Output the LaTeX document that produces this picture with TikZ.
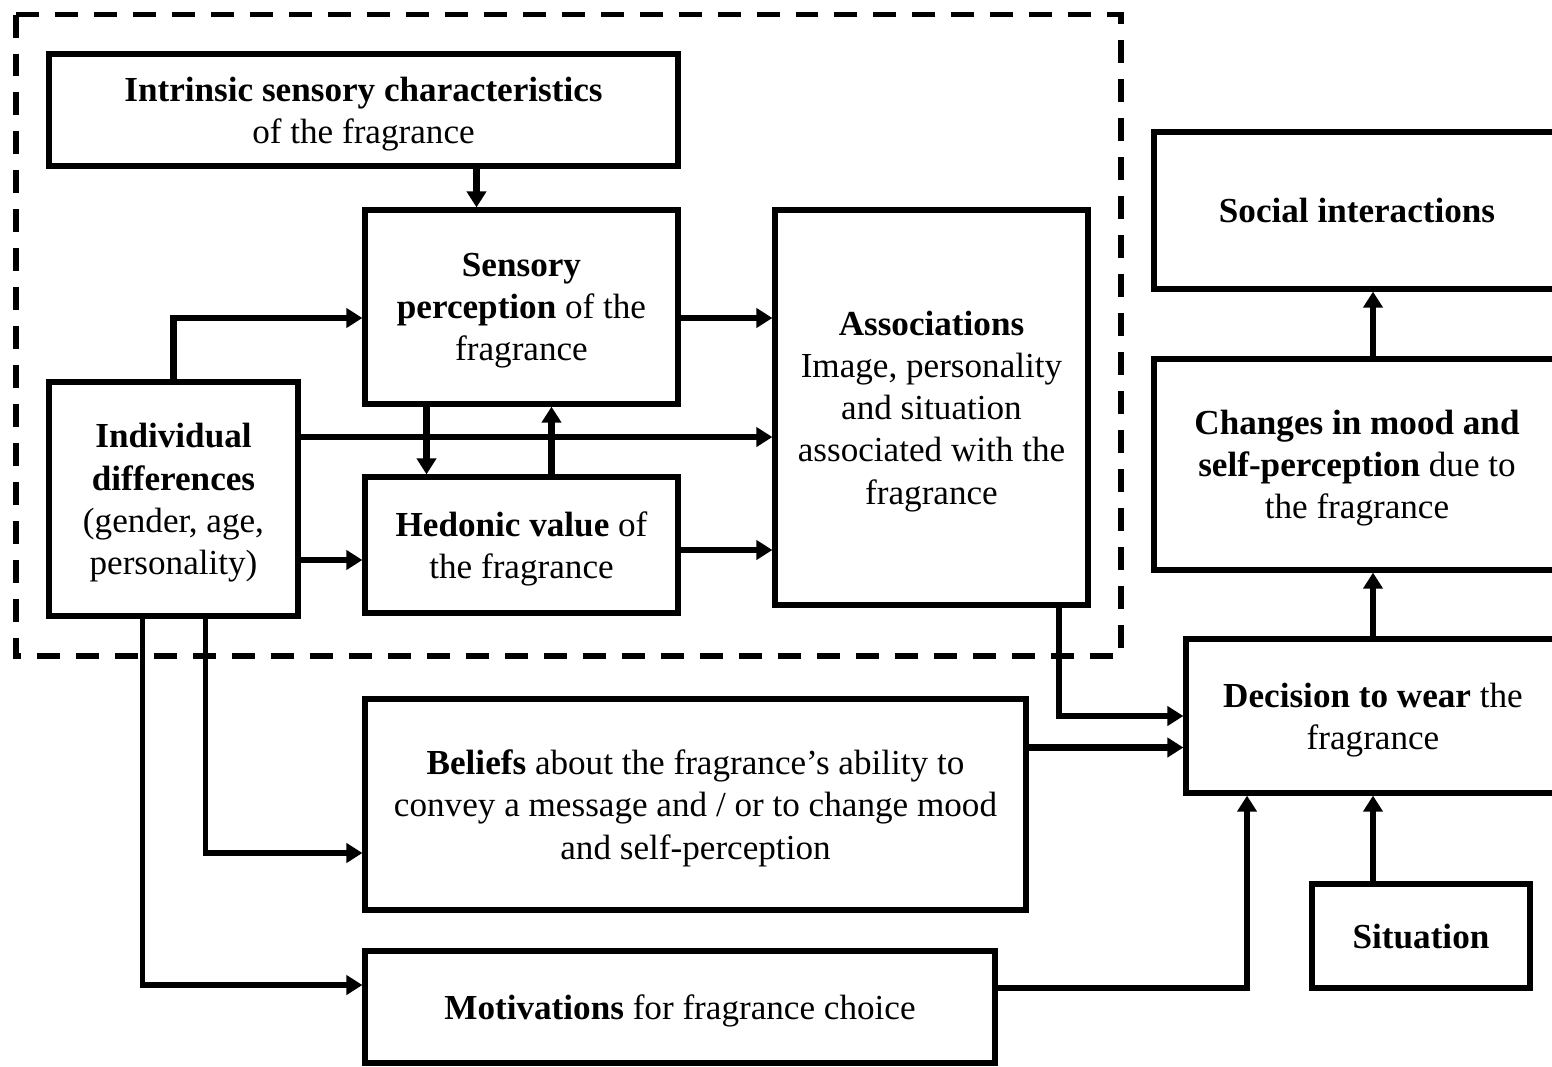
\documentclass[tikz,border=0pt]{standalone}
\usepackage{fontspec}
\setmainfont{Liberation Serif}
\usepackage{tikz}
\usetikzlibrary{arrows.meta}
\usetikzlibrary{calc}

\begin{document}
\begin{tikzpicture}[x=0.02cm,y=-0.02cm,
  blk/.style={draw, line width=3pt, align=center, inner sep=0pt, font=\fontsize{20}{24}\selectfont, text depth=-4.5pt},
  arr/.style={line width=3.8pt, -{Triangle[length=0.32cm,width=0.38cm]}},
  thinarr/.style={line width=3.4pt, -{Triangle[length=0.32cm,width=0.38cm]}},
  dashbox/.style={line width=3pt, dash pattern=on 0.46cm off 0.32cm}]
\useasboundingbox (0,0) rectangle (1552,1066);

% dashed frame round the perception part
\draw[dashbox] (16,14.5) rectangle (1121,656);

\node[blk, minimum width=12.58cm, minimum height=2.24cm] (intr) at (363.5,110) {\textbf{Intrinsic sensory characteristics}\\of the fragrance};
\node[blk, minimum width=6.26cm, minimum height=3.88cm] (sens) at (521.5,307) {\textbf{Sensory}\\\textbf{perception} of the\\fragrance};
\node[blk, minimum width=4.98cm, minimum height=4.68cm] (ind) at (173.5,499) {\textbf{Individual}\\\textbf{differences}\\(gender, age,\\personality)};
\node[blk, minimum width=6.26cm, minimum height=2.72cm] (hed) at (521.5,545) {\textbf{Hedonic value} of\\the fragrance};
\node[blk, minimum width=6.26cm, minimum height=7.9cm] (assoc) at (931.5,407.5) {\textbf{Associations}\\Image, personality\\and situation\\associated with the\\fragrance};
\node[blk, minimum width=8.12cm, minimum height=3.14cm] (soc) at (1357,210.5) {\textbf{Social interactions}};
\node[blk, minimum width=8.12cm, minimum height=4.22cm] (chg) at (1357,464.5) {\textbf{Changes in mood and}\\\textbf{self-perception} due to\\the fragrance};
\node[blk, minimum width=7.48cm, minimum height=3.08cm] (dec) at (1373,716) {\textbf{Decision to wear} the\\fragrance};
\node[blk, minimum width=13.22cm, minimum height=4.22cm] (bel) at (695.5,804.5) {\textbf{Beliefs} about the fragrance’s ability to\\convey a message and / or to change mood\\and self-perception};
\node[blk, minimum width=12.6cm, minimum height=2.24cm] (mot) at (680,1007) {\textbf{Motivations} for fragrance choice};
\node[blk, minimum width=4.36cm, minimum height=2.08cm] (sit) at (1421,936) {\textbf{Situation}};

\coordinate (a1) at ([xshift=-0.9cm]sens.north);
\coordinate (a2) at ([yshift=-0.22cm]sens.east);
\coordinate (a3) at ([xshift=-1.9cm]sens.south);
\coordinate (a4) at ([xshift=0.6cm]hed.north);
\coordinate (a5) at ([yshift=1.24cm]ind.east);
\coordinate (a6) at ([yshift=-1.22cm]ind.east);
\coordinate (a7) at ([yshift=-0.1cm]hed.east);
\coordinate (a8) at ([xshift=0.64cm]ind.south);
\coordinate (a9) at ([xshift=-0.62cm]ind.south);
\coordinate (b1) at ([yshift=1.14cm]bel.east);

\draw[arr] (a1 |- intr.south) -- (a1);
\draw[arr] (ind.north) |- ([yshift=-0.22cm]sens.west);
\draw[arr] (a2) -- (a2 -| assoc.west);
\draw[arr] (a3) -- (a3 |- hed.north);
\draw[arr] (a4) -- (a4 |- sens.south);
\draw[arr] (a5) -- (a5 -| assoc.west);
\draw[arr] (a6) -- (a6 -| hed.west);
\draw[arr] (a7) -- (a7 -| assoc.west);
\draw[thinarr] (a8) |- ([yshift=-0.97cm]bel.west);
\draw[thinarr] (a9) |- ([yshift=0.44cm]mot.west);
\draw[arr] ([xshift=2.55cm]assoc.south) |- (dec.west);
\draw[arr] (b1) -- (b1 -| dec.west);
\draw[thinarr] ([yshift=0.38cm]mot.east) -| ([xshift=-2.52cm]dec.south);
\draw[arr] (dec.south |- sit.north) -- (dec.south);
\draw[arr] (dec.north) -- (dec.north |- chg.south);
\draw[arr] (dec.north |- chg.north) -- (dec.north |- soc.south);
\end{tikzpicture}
\end{document}
